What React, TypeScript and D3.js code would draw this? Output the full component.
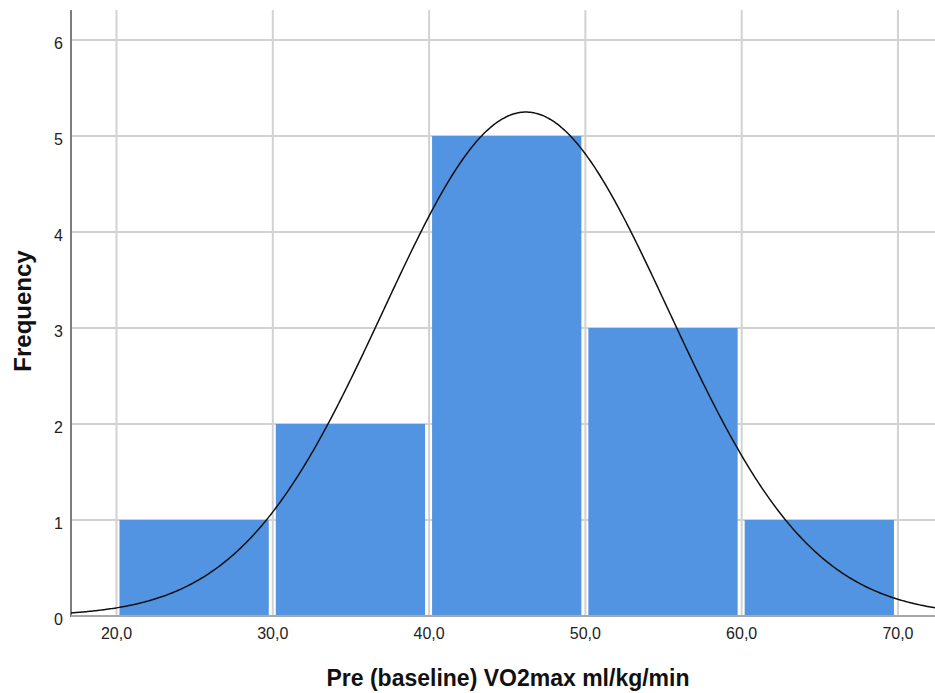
import * as d3 from "d3";

// histogram bins (lower edge of each bin) and counts
const binStarts = [20, 30, 40, 50, 60];
const binWidth = 10;
const frequencies = [1, 2, 5, 3, 1];
const xTicks = [20, 30, 40, 50, 60, 70];
const yTicks = [0, 1, 2, 3, 4, 5, 6];
// normal fit parameters
const fitMean = 46.2;
const fitSd = 9.12;
const sampleSize = 12;

export default function App() {
  const width = 935;
  const height = 693;
  const marginLeft = 71;
  const marginRight = 0;
  const marginTop = 10;
  const plotBottom = 616;

  const x = d3.scaleLinear().domain([17.09, 72.37]).range([marginLeft, width - marginRight]);
  const y = d3.scaleLinear().domain([0, 6]).range([plotBottom, 40]);

  const fmt = (d: number) => d3.format(".1f")(d).replace(".", ",");

  const pdf = (v: number) =>
    (sampleSize * binWidth) / (fitSd * Math.sqrt(2 * Math.PI)) *
    Math.exp(-((v - fitMean) ** 2) / (2 * fitSd * fitSd));
  const curveXs = d3.range(x.domain()[0], x.domain()[1] + 0.1, 0.1);
  const line = d3.line<number>().x(d => x(d)).y(d => y(pdf(d))).curve(d3.curveMonotoneX);

  const bars = binStarts.map((b, i) => ({ x0: b, x1: b + binWidth, n: frequencies[i] }));
  const font = "Liberation Sans, Arial, sans-serif";

  return (
    <svg width={width} height={height} style={{ position: "absolute", left: 0, top: 0, background: "white" }}>
      <defs>
        <clipPath id="plot">
          <rect x={marginLeft} y={marginTop} width={width - marginLeft - marginRight} height={plotBottom - marginTop} />
        </clipPath>
      </defs>
      {/* grid */}
      {yTicks.map(t => (
        <line key={"gy" + t} x1={marginLeft} x2={width} y1={y(t)} y2={y(t)} stroke="#d2d2d2" strokeWidth={2} />
      ))}
      {xTicks.map(t => (
        <line key={"gx" + t} x1={x(t)} x2={x(t)} y1={marginTop} y2={plotBottom} stroke="#d2d2d2" strokeWidth={2} />
      ))}
      {/* bars */}
      {bars.map((d, i) => (
        <rect
          key={"b" + i}
          x={x(d.x0) + 3}
          y={y(d.n)}
          width={x(d.x1) - x(d.x0) - 7}
          height={plotBottom - y(d.n)}
          fill="#5294e2"
        />
      ))}
      {/* axes */}
      <line x1={marginLeft} x2={marginLeft} y1={marginTop} y2={plotBottom + 1} stroke="#7d7d7d" strokeWidth={2} />
      <line x1={marginLeft} x2={width} y1={plotBottom} y2={plotBottom} stroke="#a8a8a8" strokeWidth={2} />
      {/* normal curve */}
      <path d={line(curveXs) || ""} fill="none" stroke="#111" strokeWidth={1.5} clipPath="url(#plot)" />
      {/* tick labels */}
      {yTicks.map(t => (
        <text key={"ly" + t} x={63} y={y(t) + 9} textAnchor="end" fontFamily={font} fontSize={16} fill="#222">
          {t}
        </text>
      ))}
      {xTicks.map(t => (
        <text key={"lx" + t} x={x(t)} y={639} textAnchor="middle" fontFamily={font} fontSize={16} fill="#222">
          {fmt(t)}
        </text>
      ))}
      {/* axis titles */}
      <text x={508} y={686} textAnchor="middle" fontFamily={font} fontSize={23} fontWeight="bold" fill="#111">
        Pre (baseline) VO2max ml/kg/min
      </text>
      <text
        transform={`translate(31, 311) rotate(-90)`}
        textAnchor="middle"
        fontFamily={font}
        fontSize={24}
        fontWeight="bold"
        fill="#111"
      >
        Frequency
      </text>
    </svg>
  );
}
